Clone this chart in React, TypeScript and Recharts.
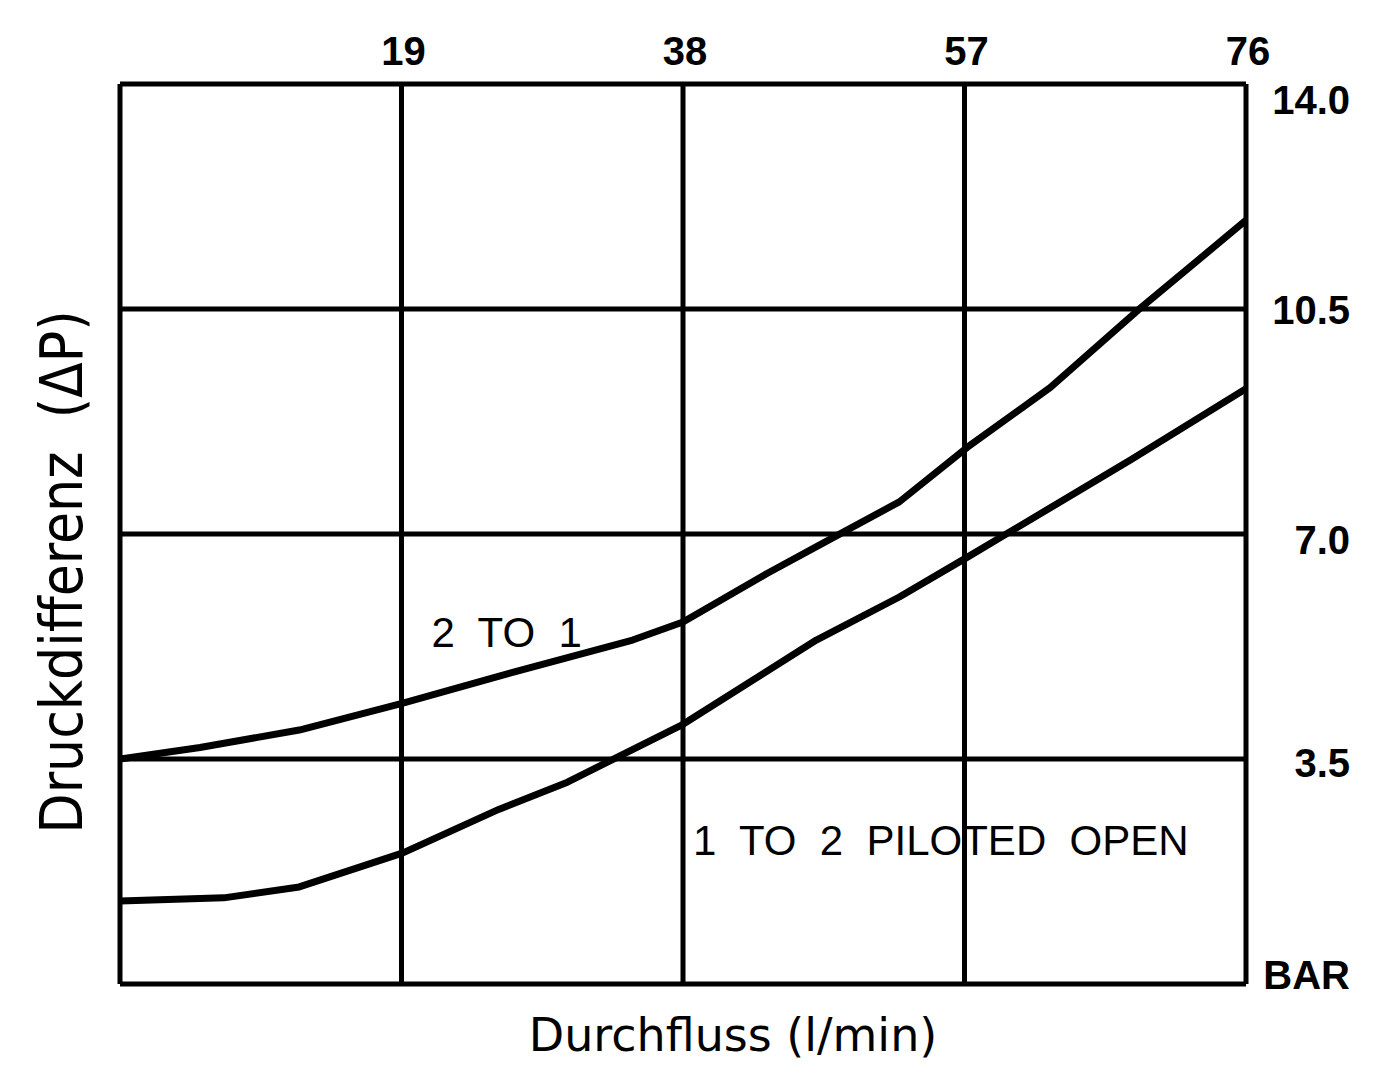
import { LineChart, Line, XAxis, YAxis, CartesianGrid, ReferenceDot } from 'recharts';

// flow (l/min) vs pressure drop (bar)
const flow2to1 = [0, 5.4, 12.1, 19.1, 25.6, 34.6, 38.0, 43.7, 48.1, 52.6, 57.2, 62.8, 68.7, 76];
const dp2to1 = [3.5, 3.68, 3.95, 4.37, 4.79, 5.35, 5.63, 6.39, 6.94, 7.5, 8.35, 9.28, 10.48, 11.88];

const flow1to2 = [0, 7.0, 12.1, 19.1, 25.6, 30.2, 38.0, 47.0, 52.6, 57.2, 68.2, 76];
const dp1to2 = [1.29, 1.34, 1.51, 2.04, 2.72, 3.14, 4.04, 5.35, 6.02, 6.64, 8.15, 9.26];

const xTicks = [0, 19, 38, 57, 76];
const yTicks = [0, 3.5, 7, 10.5, 14];
const yTickLabels = ['BAR', '3.5', '7.0', '10.5', '14.0'];

const curve2to1 = flow2to1.map((x, i) => ({ x, y: dp2to1[i] }));
const curve1to2 = flow1to2.map((x, i) => ({ x, y: dp1to2[i] }));

const tickFont = "'Liberation Sans', Arial, sans-serif";
const titleFont = "'DejaVu Sans', sans-serif";

// small nudges so the right-hand labels sit where the drawing has them
const yLabelShift: Record<string, number> = { '0': -9, '3.5': 4, '7': 6, '10.5': 1, '14': 16 };

function TopTick(props: any) {
  const { x, payload } = props;
  if (payload.value === 0) return <g />;
  return (
    <text x={x + 2} y={57} textAnchor="middle" fill="#000" fontFamily={tickFont} fontWeight="bold" fontSize={40}>
      {payload.value}
    </text>
  );
}

function RightTick(props: any) {
  const { y, payload } = props;
  const idx = yTicks.indexOf(payload.value);
  const shift = yLabelShift[String(payload.value)] ?? 0;
  return (
    <text x={1342} y={y + shift + 14} textAnchor="end" fill="#000" fontFamily={tickFont} fontWeight="bold" fontSize={40}>
      {yTickLabels[idx]}
    </text>
  );
}

function CurveLabel(text: string) {
  return (props: any) => {
    const vb = props.viewBox || {};
    const cx = (vb.x ?? 0) + (vb.width ?? 0) / 2;
    const cy = (vb.y ?? 0) + (vb.height ?? 0) / 2;
    return (
      <text x={cx} y={cy + 15} textAnchor="middle" fill="#000" fontFamily={tickFont} fontSize={42} style={{ whiteSpace: 'pre' }}>
        {text}
      </text>
    );
  };
}

export default function App() {
  return (
    <LineChart width={1370} height={1058} margin={{ top: 0, right: 0, bottom: 0, left: 0 }} style={{ background: '#fff' }}>
      <CartesianGrid xAxisId="top" yAxisId="right" stroke="#000" strokeWidth={5} fill="none" />
      <XAxis
        xAxisId="top"
        type="number"
        dataKey="x"
        orientation="top"
        domain={[0, 76]}
        ticks={xTicks}
        height={76}
        axisLine={false}
        tickLine={false}
        tick={<TopTick />}
        allowDataOverflow
      />
      <XAxis
        xAxisId="bottom"
        type="number"
        dataKey="x"
        orientation="bottom"
        domain={[0, 76]}
        height={82}
        axisLine={false}
        tickLine={false}
        tick={false}
        label={{
          content: () => (
            <text x={725} y={1043} textAnchor="middle" fill="#000" fontFamily={titleFont} fontSize={46}>
              Durchfluss (l/min)
            </text>
          ),
        }}
      />
      <YAxis
        yAxisId="right"
        orientation="right"
        type="number"
        domain={[0, 14]}
        ticks={yTicks}
        width={132}
        axisLine={false}
        tickLine={false}
        tick={<RightTick />}
        allowDataOverflow
      />
      <YAxis
        yAxisId="left"
        orientation="left"
        width={112}
        axisLine={false}
        tickLine={false}
        tick={false}
        label={{
          content: () => (
            <text
              x={74}
              y={564}
              transform="rotate(-90 74 564)"
              textAnchor="middle"
              fill="#000"
              fontFamily={"'DejaVu Sans Condensed', 'DejaVu Sans', sans-serif"}
              fontSize={58}
              style={{ whiteSpace: 'pre' }}
            >
              {'Druckdifferenz  (ΔP)'}
            </text>
          ),
        }}
      />
      <Line
        xAxisId="top"
        yAxisId="right"
        data={curve2to1}
        dataKey="y"
        type="linear"
        stroke="#000"
        strokeWidth={7}
        strokeLinejoin="round"
        dot={false}
        activeDot={false}
        isAnimationActive={false}
      />
      <Line
        xAxisId="top"
        yAxisId="right"
        data={curve1to2}
        dataKey="y"
        type="linear"
        stroke="#000"
        strokeWidth={7}
        strokeLinejoin="round"
        dot={false}
        activeDot={false}
        isAnimationActive={false}
      />
      <ReferenceDot xAxisId="top" yAxisId="right" x={26.1} y={5.48} r={1} fill="none" stroke="none" label={{ content: CurveLabel('2  TO  1') }} />
      <ReferenceDot xAxisId="top" yAxisId="right" x={55.4} y={2.24} r={1} fill="none" stroke="none" label={{ content: CurveLabel('1  TO  2  PILOTED  OPEN') }} />
    </LineChart>
  );
}
